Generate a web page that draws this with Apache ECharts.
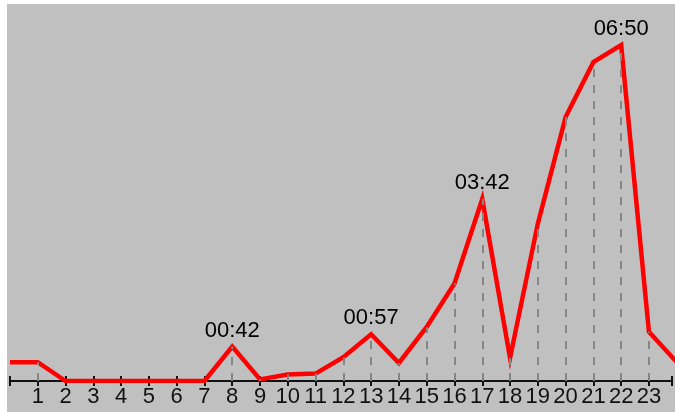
<!DOCTYPE html>
<html>
<head>
<meta charset="utf-8">
<script src="https://cdn.jsdelivr.net/npm/echarts@6/dist/echarts.min.js"></script>
<style>
  html, body { margin: 0; padding: 0; background: #ffffff; width: 675px; height: 412px; overflow: hidden; }
  #c { position: absolute; left: 7px; top: 4px; width: 668px; height: 408px; }
</style>
</head>
<body>
<div id="c"></div>
<script>
// Hour of day (x) and duration in minutes (y)
const hours   = [0, 1, 2, 3, 4, 5, 6, 7, 8, 9, 10, 11, 12, 13, 14, 15, 16, 17, 18, 19, 20, 21, 22, 23, 24];
const minutes = [23, 23, 0, 0, 0, 0, 0, 0, 42, 2, 8, 9, 29, 57, 22, 66, 119, 222, 28, 192, 322, 389, 410, 60, 23];
// Hours whose value is written above the point
const labeledHours = [8, 13, 17, 22];
// Tick labels shown on the x axis
const tickLabels = [1, 2, 3, 4, 5, 6, 7, 8, 9, 10, 11, 12, 13, 14, 15, 16, 17, 18, 19, 20, 21, 22, 23];

function fmt(m) {
  const h = Math.floor(m / 60), mm = m % 60;
  return String(h).padStart(2, '0') + ':' + String(mm).padStart(2, '0');
}

const lineData = hours.map((h, i) => [h, minutes[i]]);
const labelData = labeledHours.map(h => [h, minutes[hours.indexOf(h)]]);
const dropLines = hours
  .map((h, i) => ({ h, m: minutes[i] }))
  .filter(d => tickLabels.indexOf(d.h) >= 0 && d.m > 0)
  .map(d => [{ coord: [d.h, 0] }, { coord: [d.h, d.m] }]);

const font = '"Liberation Sans", Arial, sans-serif';
const chart = echarts.init(document.getElementById('c'), null, { renderer: 'canvas' });
const axisBase = {
  type: 'value', min: 0, max: 23.83, interval: 1, position: 'bottom',
  splitLine: { show: false }
};
chart.setOption({
  animation: false,
  backgroundColor: '#c0c0c0',
  grid: { left: 0, right: 0, top: 0, bottom: 31, containLabel: false },
  xAxis: [
    Object.assign({}, axisBase, {
      axisLine: { show: true, lineStyle: { color: '#111111', width: 2 } },
      axisTick: { show: true, length: 5, lineStyle: { color: '#111111', width: 2 } },
      axisLabel: {
        show: true, margin: 5, fontSize: 22, fontFamily: font, color: '#111111',
        formatter: v => (tickLabels.indexOf(v) >= 0 ? String(v) : '')
      }
    }),
    Object.assign({}, axisBase, {
      axisLine: { show: false },
      axisTick: { show: true, inside: true, length: 5, lineStyle: { color: '#111111', width: 2 } },
      axisLabel: { show: false }
    })
  ],
  yAxis: { type: 'value', min: 0, max: 460, show: false },
  series: [
    {
      type: 'line', data: [], xAxisIndex: 0, z: 1, silent: true,
      markLine: {
        silent: true, symbol: ['none', 'none'], animation: false,
        label: { show: false },
        lineStyle: { type: [8, 8], color: '#858585', width: 2 },
        data: dropLines
      }
    },
    {
      type: 'line', data: lineData, xAxisIndex: 0, z: 3,
      symbol: 'none', clip: true,
      lineStyle: { color: '#ff0000', width: 4.5, join: 'miter' }
    },
    {
      type: 'scatter', data: labelData, xAxisIndex: 0, z: 2,
      symbolSize: 2, itemStyle: { color: '#ff0000', opacity: 1 },
      label: {
        show: true, position: 'top', distance: 4, opacity: 1,
        fontSize: 22, fontFamily: font, color: '#000000',
        formatter: p => fmt(p.value[1])
      },
      labelLayout: { hideOverlap: false }
    }
  ]
});
</script>
</body>
</html>
